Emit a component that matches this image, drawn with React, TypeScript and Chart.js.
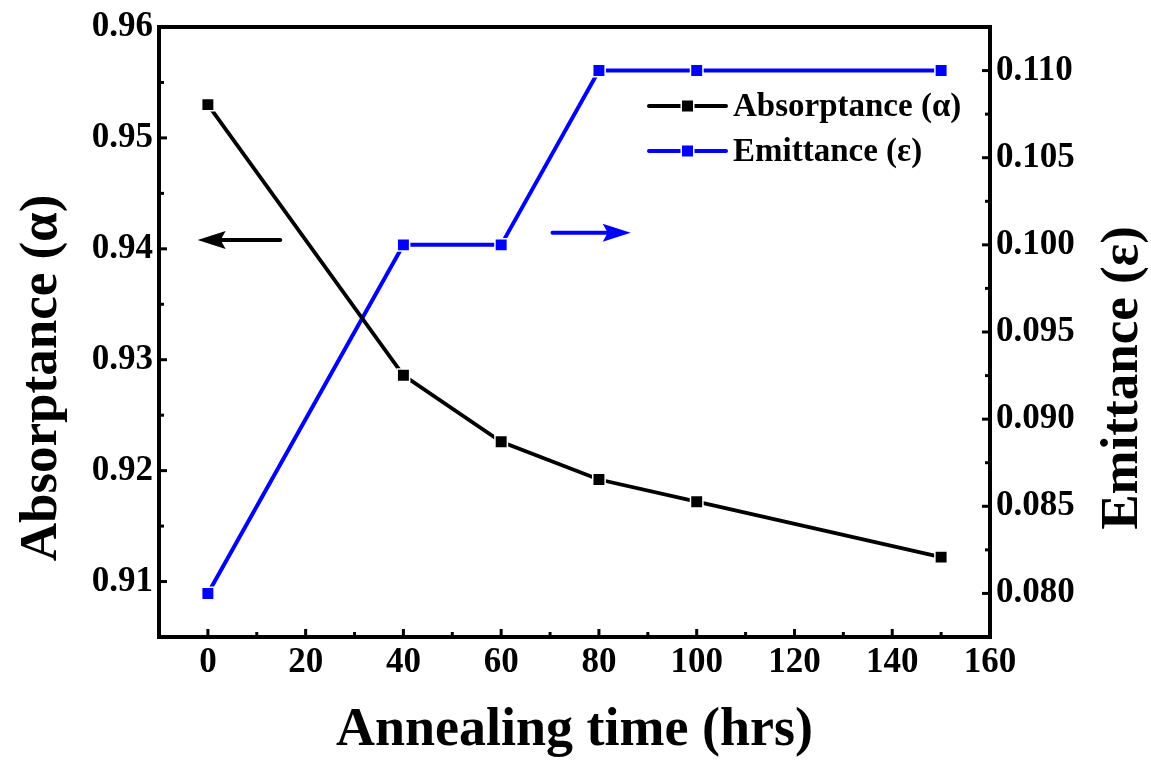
import React, { useEffect, useRef } from "react";
import { Chart, registerables } from "chart.js";

Chart.register(...registerables);

// ---- data ----
const annealingHours = [0, 40, 60, 80, 100, 150];
const absorptance = [0.953, 0.9286, 0.9226, 0.9192, 0.9172, 0.9122];
const emittance = [0.08, 0.1, 0.1, 0.11, 0.11, 0.11];

const xTickValues = [0, 20, 40, 60, 80, 100, 120, 140, 160];
const leftTickValues = [0.91, 0.92, 0.93, 0.94, 0.95, 0.96];
const rightTickValues = [0.08, 0.085, 0.09, 0.095, 0.1, 0.105, 0.11];

const seriesLabels = ["Absorptance (α)", "Emittance (ε)"];
const xTitle = "Annealing time (hrs)";
const leftTitle = "Absorptance (α)";
const rightTitle = "Emittance (ε)";

const FONT = "'Liberation Serif', 'Times New Roman', Times, serif";
const BLUE = "#0000ff";
const BLACK = "#000000";

const W = 1151;
const H = 760;

function midpoints(arr: number[]): number[] {
  const out: number[] = [];
  for (let i = 0; i < arr.length - 1; i++) out.push((arr[i] + arr[i + 1]) / 2);
  return out;
}

const framePlugin = {
  id: "framePlugin",
  afterDraw(chart: any) {
    const { ctx, chartArea } = chart;
    const { left, right, top, bottom } = chartArea;
    const xs = chart.scales.x;
    const yl = chart.scales.y;
    const yr = chart.scales.y1;
    ctx.save();
    ctx.strokeStyle = BLACK;
    ctx.lineCap = "butt";

    // ticks (inward)
    const major = 8;
    const minor = 5;
    ctx.lineWidth = 3;
    const drawX = (vals: number[], len: number) => {
      vals.forEach((v) => {
        const px = xs.getPixelForValue(v);
        if (px <= left + 3 || px >= right - 3) return;
        ctx.beginPath();
        ctx.moveTo(px, bottom);
        ctx.lineTo(px, bottom - len);
        ctx.stroke();
      });
    };
    drawX(xTickValues, major);
    drawX(midpoints(xTickValues), minor);
    const drawY = (scale: any, vals: number[], len: number, side: "l" | "r") => {
      vals.forEach((v) => {
        const py = scale.getPixelForValue(v);
        if (py <= top + 3 || py >= bottom - 3) return;
        ctx.beginPath();
        if (side === "l") {
          ctx.moveTo(left, py);
          ctx.lineTo(left + len, py);
        } else {
          ctx.moveTo(right, py);
          ctx.lineTo(right - len, py);
        }
        ctx.stroke();
      });
    };
    drawY(yl, leftTickValues, major, "l");
    drawY(yl, midpoints(leftTickValues), minor, "l");
    drawY(yr, rightTickValues, major, "r");
    drawY(yr, midpoints(rightTickValues), minor, "r");

    // frame
    ctx.lineWidth = 4;
    ctx.strokeRect(left, top, right - left, bottom - top);

    // arrows (annotations in data coordinates)
    const arrow = (x0: number, x1: number, yPix: number, color: string) => {
      const p0 = xs.getPixelForValue(x0);
      const p1 = xs.getPixelForValue(x1);
      const dir = p1 > p0 ? 1 : -1;
      const headLen = 28;
      const halfW = 9;
      const notch = 5;
      ctx.strokeStyle = color;
      ctx.fillStyle = color;
      ctx.lineWidth = 4;
      ctx.lineCap = "round";
      ctx.beginPath();
      ctx.moveTo(p0, yPix);
      ctx.lineTo(p1 - dir * (headLen - notch), yPix);
      ctx.stroke();
      ctx.beginPath();
      ctx.moveTo(p1, yPix);
      ctx.lineTo(p1 - dir * headLen, yPix - halfW);
      ctx.lineTo(p1 - dir * (headLen - notch), yPix);
      ctx.lineTo(p1 - dir * headLen, yPix + halfW);
      ctx.closePath();
      ctx.fill();
    };
    arrow(14.8, -2.1, yl.getPixelForValue(0.9408), BLACK);
    arrow(70.5, 86.5, yr.getPixelForValue(0.1007), BLUE);

    // legend
    const datasets = chart.data.datasets;
    const lx0 = right - 341;
    const lx1 = right - 264;
    const tx = right - 257;
    const rowY = [top + 79, top + 124];
    datasets.forEach((ds: any, i: number) => {
      const y = rowY[i];
      ctx.strokeStyle = ds.borderColor;
      ctx.lineWidth = 4;
      ctx.lineCap = "round";
      ctx.beginPath();
      ctx.moveTo(lx0, y);
      ctx.lineTo(lx1, y);
      ctx.stroke();
      const mx = (lx0 + lx1) / 2;
      ctx.fillStyle = "#ffffff";
      ctx.fillRect(mx - 7, y - 7, 14, 14);
      ctx.fillStyle = ds.backgroundColor;
      ctx.fillRect(mx - 5.5, y - 5.5, 11, 11);
      ctx.fillStyle = BLACK;
      ctx.font = `bold 33px ${FONT}`;
      ctx.textAlign = "left";
      ctx.textBaseline = "middle";
      ctx.fillText(ds.label, tx, y + 1);
    });

    // axis titles on the left and right (read bottom to top)
    const vTitle = (text: string, baselineX: number, size: number) => {
      ctx.save();
      ctx.fillStyle = BLACK;
      ctx.font = `bold ${size}px ${FONT}`;
      ctx.textAlign = "center";
      ctx.textBaseline = "alphabetic";
      ctx.translate(baselineX, (top + bottom) / 2 + 46);
      ctx.rotate(-Math.PI / 2);
      ctx.fillText(text, 0, 0);
      ctx.restore();
    };
    vTitle(leftTitle, 56, 53);
    vTitle(rightTitle, 1137, 53);

    ctx.restore();
  },
};

export default function App() {
  const ref = useRef<HTMLCanvasElement | null>(null);
  useEffect(() => {
    if (!ref.current) return;
    const tickFont = { family: FONT, size: 35, weight: "bold" as const };
    const chart = new Chart(ref.current, {
      type: "line",
      data: {
        datasets: [
          {
            label: seriesLabels[0],
            data: annealingHours.map((h, i) => ({ x: h, y: absorptance[i] })),
            yAxisID: "y",
            borderColor: BLACK,
            backgroundColor: BLACK,
            borderWidth: 3.8,
            pointStyle: "rect",
            pointRadius: 8.8,
            pointBorderColor: "#ffffff",
            pointBorderWidth: 1.5,
            pointBackgroundColor: BLACK,
            tension: 0,
          },
          {
            label: seriesLabels[1],
            data: annealingHours.map((h, i) => ({ x: h, y: emittance[i] })),
            yAxisID: "y1",
            borderColor: BLUE,
            backgroundColor: BLUE,
            borderWidth: 4,
            pointStyle: "rect",
            pointRadius: 8.8,
            pointBorderColor: "#ffffff",
            pointBorderWidth: 1.5,
            pointBackgroundColor: BLUE,
            tension: 0,
          },
        ],
      },
      options: {
        responsive: false,
        animation: false,
        devicePixelRatio: 1,
        layout: { padding: { top: 23, left: 0, right: 0, bottom: 0 } },
        plugins: {
          legend: { display: false },
          tooltip: { enabled: false },
        },
        scales: {
          x: {
            type: "linear",
            min: -10,
            max: 160,
            grid: { display: false, drawTicks: false },
            border: { display: false },
            afterBuildTicks: (s: any) => {
              s.ticks = xTickValues.map((v) => ({ value: v }));
            },
            afterFit: (s: any) => {
              s.height = 123;
            },
            ticks: {
              color: BLACK,
              font: tickFont,
              padding: 5,
              maxRotation: 0,
              autoSkip: false,
              callback: (v: any) => String(v),
            },
            title: {
              display: true,
              text: xTitle,
              color: BLACK,
              font: { family: FONT, size: 54, weight: "bold", lineHeight: 1 },
              padding: { top: 0, bottom: 2 },
            },
          },
          y: {
            type: "linear",
            position: "left",
            min: 0.905,
            max: 0.96,
            grid: { display: false, drawTicks: false },
            border: { display: false },
            afterBuildTicks: (s: any) => {
              s.ticks = leftTickValues.map((v) => ({ value: v }));
            },
            afterFit: (s: any) => {
              s.width = 159;
            },
            ticks: {
              color: BLACK,
              font: tickFont,
              padding: 6,
              autoSkip: false,
              callback: (v: any) => Number(v).toFixed(2),
            },
          },
          y1: {
            type: "linear",
            position: "right",
            min: 0.0775,
            max: 0.1125,
            grid: { display: false, drawTicks: false },
            border: { display: false },
            afterBuildTicks: (s: any) => {
              s.ticks = rightTickValues.map((v) => ({ value: v }));
            },
            afterFit: (s: any) => {
              s.width = W - 990;
            },
            ticks: {
              color: BLACK,
              font: tickFont,
              padding: 6,
              autoSkip: false,
              callback: (v: any) => Number(v).toFixed(3),
            },
          },
        },
      },
      plugins: [framePlugin],
    } as any);
    return () => chart.destroy();
  }, []);

  return (
    <div style={{ position: "absolute", left: 0, top: 0, width: W, height: H, background: "#fff" }}>
      <canvas ref={ref} width={W} height={H} style={{ display: "block", width: W, height: H }} />
    </div>
  );
}
